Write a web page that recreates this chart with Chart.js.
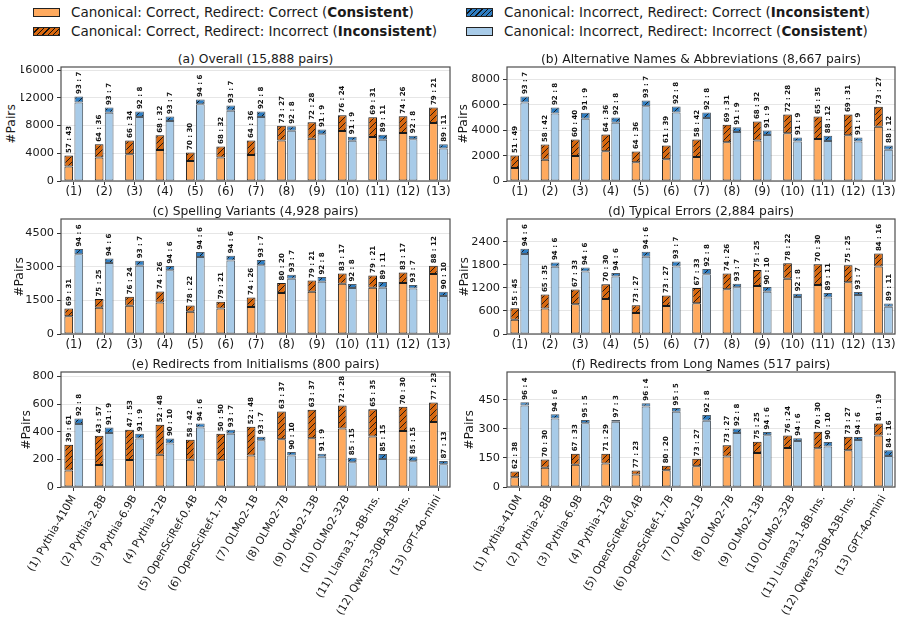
<!DOCTYPE html>
<html><head><meta charset="utf-8">
<script src="https://cdn.jsdelivr.net/npm/chart.js@4.4.1/dist/chart.umd.min.js"></script>
<style>
html,body{margin:0;padding:0;background:#fff;}
#wrap{position:relative;width:904px;height:623px;overflow:hidden;font-family:"DejaVu Sans",sans-serif;color:#1a1a1a;}
canvas.panel{position:absolute;left:0;top:0;}
.ttl{position:absolute;font-size:12.3px;white-space:nowrap;transform:translate(-50%,-50%);line-height:1;}
.ylab{position:absolute;font-size:12.3px;white-space:nowrap;transform:translate(-50%,-50%) rotate(-90deg);line-height:1;}
.sw{position:absolute;width:27px;height:9.5px;border:1px solid #222;box-sizing:border-box;}
.lt{position:absolute;font-size:13.5px;white-space:nowrap;transform:translateY(-50%);line-height:1;}
</style></head>
<body><div id="wrap"></div>
<script>
// ---------- data ----------
const models = ["(1) Pythia-410M","(2) Pythia-2.8B","(3) Pythia-6.9B","(4) Pythia-12B","(5) OpenSciRef-0.4B","(6) OpenSciRef-1.7B","(7) OLMo2-1B","(8) OLMo2-7B","(9) OLMo2-13B","(10) OLMo2-32B","(11) Llama3.1-8B-Ins.","(12) Qwen3-30B-A3B-Ins.","(13) GPT-4o-mini"];
const shortLabels = ["(1)","(2)","(3)","(4)","(5)","(6)","(7)","(8)","(9)","(10)","(11)","(12)","(13)"];
const panelTitles = ["(a) Overall (15,888 pairs)","(b) Alternative Names & Abbreviations (8,667 pairs)","(c) Spelling Variants (4,928 pairs)","(d) Typical Errors (2,884 pairs)","(e) Redirects from Initialisms (800 pairs)","(f) Redirects from Long Names (517 pairs)"];
const legendLabels = [
  ["Canonical: Correct, Redirect: Correct (","Consistent",")"],
  ["Canonical: Correct, Redirect: Incorrect (","Inconsistent",")"],
  ["Canonical: Incorrect, Redirect: Correct (","Inconsistent",")"],
  ["Canonical: Incorrect, Redirect: Incorrect (","Consistent",")"]
];
const overallTicks = [0, 4000, 8000, 12000, 16000];
const altTicks     = [0, 2000, 4000, 6000, 8000];
const spellTicks   = [0, 1500, 3000, 4500];
const typoTicks    = [0, 600, 1200, 1800, 2400];
const initTicks    = [0, 200, 400, 600, 800];
const longTicks    = [0, 150, 300, 450];
const yMaxValues = [16450, 8990, 5130, 2990, 832, 593];

// canonical-correct pairs (orange bar) and canonical-incorrect pairs (blue bar)
const overallCanonCorrect   = [3690, 5290, 5860, 6590, 4120, 4990, 5860, 7990, 8470, 9490, 9200, 9350, 10600];
const overallCanonIncorrect = [12198, 10598, 10028, 9298, 11768, 10898, 10028, 7898, 7418, 6398, 6688, 6538, 5288];
const overallCanonRatio = ["57 : 43","64 : 36","66 : 34","68 : 32","70 : 30","68 : 32","64 : 36","73 : 27","72 : 28","76 : 24","69 : 31","74 : 26","79 : 21"];
const overallRedirRatio = ["93 : 7","93 : 7","92 : 8","93 : 7","94 : 6","93 : 7","92 : 8","92 : 8","91 : 9","91 : 9","89 : 11","92 : 8","89 : 11"];

const altCanonCorrect   = [2010, 2875, 3275, 3665, 2325, 2800, 3270, 4430, 4685, 5235, 5090, 5235, 5865];
const altCanonIncorrect = [6657, 5792, 5392, 5002, 6342, 5867, 5397, 4237, 3982, 3432, 3577, 3432, 2802];
const altCanonRatio = ["51 : 49","58 : 42","60 : 40","64 : 36","64 : 36","61 : 39","58 : 42","69 : 31","68 : 32","72 : 28","65 : 35","69 : 31","73 : 27"];
const altRedirRatio = ["93 : 7","92 : 8","91 : 9","92 : 8","93 : 7","92 : 8","92 : 8","91 : 9","91 : 9","91 : 9","88 : 12","91 : 9","88 : 12"];

const spellCanonCorrect   = [1140, 1560, 1660, 1900, 1270, 1440, 1630, 2280, 2390, 2700, 2610, 2740, 3040];
const spellCanonIncorrect = [3788, 3368, 3268, 3028, 3658, 3488, 3298, 2648, 2538, 2228, 2318, 2188, 1888];
const spellCanonRatio = ["69 : 31","75 : 25","76 : 24","74 : 26","78 : 22","79 : 21","74 : 26","80 : 20","79 : 21","83 : 17","79 : 21","83 : 17","88 : 12"];
const spellRedirRatio = ["94 : 6","94 : 6","93 : 7","94 : 6","94 : 6","94 : 6","93 : 7","93 : 7","92 : 8","92 : 8","89 : 11","93 : 7","90 : 10"];

const typoCanonCorrect   = [670, 1025, 1155, 1295, 745, 1000, 1195, 1575, 1665, 1840, 1815, 1790, 2090];
const typoCanonIncorrect = [2214, 1859, 1729, 1589, 2139, 1884, 1689, 1309, 1219, 1044, 1069, 1094, 794];
const typoCanonRatio = ["55 : 45","65 : 35","67 : 33","70 : 30","73 : 27","73 : 27","67 : 33","74 : 26","75 : 25","78 : 22","70 : 30","75 : 25","84 : 16"];
const typoRedirRatio = ["94 : 6","94 : 6","94 : 6","94 : 6","94 : 6","93 : 7","92 : 8","93 : 7","90 : 10","92 : 8","89 : 11","93 : 7","89 : 11"];

const initCanonCorrect   = [305, 370, 414, 450, 341, 385, 436, 547, 559, 589, 562, 580, 612];
const initCanonIncorrect = [495, 430, 386, 350, 459, 415, 364, 253, 241, 211, 238, 220, 188];
const initCanonRatio = ["39 : 61","43 : 57","47 : 53","52 : 48","58 : 42","50 : 50","52 : 48","63 : 37","63 : 37","72 : 28","65 : 35","70 : 30","77 : 23"];
const initRedirRatio = ["92 : 8","91 : 9","91 : 9","90 : 10","94 : 6","93 : 7","93 : 7","90 : 10","91 : 9","85 : 15","85 : 15","85 : 15","87 : 13"];

const longCanonCorrect   = [80, 142, 171, 171, 85, 109, 146, 215, 233, 265, 285, 259, 327];
const longCanonIncorrect = [437, 375, 346, 346, 432, 408, 371, 302, 284, 252, 232, 258, 190];
const longCanonRatio = ["62 : 38","70 : 30","67 : 33","71 : 29","77 : 23","80 : 20","73 : 27","73 : 27","75 : 25","76 : 24","70 : 30","73 : 27","81 : 19"];
const longRedirRatio = ["96 : 4","94 : 6","95 : 5","97 : 3","96 : 4","95 : 5","92 : 8","92 : 8","94 : 6","94 : 6","90 : 10","94 : 6","84 : 16"];

const yTickSets = [overallTicks, altTicks, spellTicks, typoTicks, initTicks, longTicks];
const canonCorrectSets   = [overallCanonCorrect, altCanonCorrect, spellCanonCorrect, typoCanonCorrect, initCanonCorrect, longCanonCorrect];
const canonIncorrectSets = [overallCanonIncorrect, altCanonIncorrect, spellCanonIncorrect, typoCanonIncorrect, initCanonIncorrect, longCanonIncorrect];
const canonRatioSets = [overallCanonRatio, altCanonRatio, spellCanonRatio, typoCanonRatio, initCanonRatio, longCanonRatio];
const redirRatioSets = [overallRedirRatio, altRedirRatio, spellRedirRatio, typoRedirRatio, initRedirRatio, longRedirRatio];

// ---------- layout / style ----------
const W = 904, H = 623;
const boxes = [[61,67,450,181],[507,67,895,181],[61,219,450,334],[507,219,895,334],[61,372,450,487],[507,372,895,487]];
const titleY = [58.5, 58.5, 211, 211, 364, 364];
const ylabX = [11, 463, 19, 464, 26, 469];
const FONT = '"DejaVu Sans", sans-serif';
const TXT = '#1a1a1a';
const C_LO = '#FFAA5E', C_HO = '#D8680F', C_HB = '#2E7DC2', C_LB = '#A8CBE8';

Chart.defaults.font.family = FONT;

function hatch(base){
  const s = 6, c = document.createElement('canvas'); c.width = s; c.height = s;
  const g = c.getContext('2d');
  g.fillStyle = base; g.fillRect(0,0,s,s);
  g.strokeStyle = '#111'; g.lineWidth = 0.9;
  g.beginPath();
  g.moveTo(0,s); g.lineTo(s,0);
  g.moveTo(-1,1); g.lineTo(1,-1);
  g.moveTo(s-1,s+1); g.lineTo(s+1,s-1);
  g.stroke();
  return g.createPattern(c,'repeat');
}
const pctOf = r => parseInt(r.split(':')[0], 10);

const wrap = document.getElementById('wrap');

// legend
const legPos = [[33,12.5,C_LO,false],[33,31.5,C_HO,true],[466,12.5,C_HB,true],[466,31.5,C_LB,false]];
legPos.forEach((lp,k)=>{
  const sw = document.createElement('div'); sw.className='sw';
  sw.style.left = lp[0]+'px'; sw.style.top = (lp[1]-4.75)+'px';
  sw.style.background = lp[3] ? `repeating-linear-gradient(135deg, ${lp[2]} 0px, ${lp[2]} 2.8px, #111 2.8px, #111 3.8px)` : lp[2];
  wrap.appendChild(sw);
  const t = document.createElement('div'); t.className='lt';
  t.style.left = (lp[0]+38)+'px'; t.style.top = lp[1]+'px';
  const L = legendLabels[k];
  t.innerHTML = L[0] + '<b>' + L[1] + '</b>' + L[2];
  wrap.appendChild(t);
});

function makePanel(p){
  const [L,T,R,B] = boxes[p];
  const bottomRow = p >= 4;
  const YW = 40, XH = bottomRow ? 130 : 24;
  const cc = canonCorrectSets[p], ci = canonIncorrectSets[p];
  const cr = canonRatioSets[p], rr = redirRatioSets[p];
  const ccCons = cc.map((v,i)=>Math.round(v*pctOf(cr[i])/100));
  const ccInc = cc.map((v,i)=>v-ccCons[i]);
  const ciCons = ci.map((v,i)=>Math.round(v*pctOf(rr[i])/100));
  const ciInc = ci.map((v,i)=>v-ciCons[i]);
  const tickVals = yTickSets[p];

  const t = document.createElement('div'); t.className='ttl';
  t.style.left = ((L+R)/2)+'px'; t.style.top = titleY[p]+'px'; t.textContent = panelTitles[p];
  wrap.appendChild(t);
  const yl = document.createElement('div'); yl.className='ylab';
  yl.style.left = ylabX[p]+'px'; yl.style.top = ((T+B)/2)+'px'; yl.textContent = '#Pairs';
  wrap.appendChild(yl);

  const cv = document.createElement('canvas'); cv.className='panel'; cv.width=W; cv.height=H;
  wrap.appendChild(cv);

  const framePlugin = {
    id:'frame'+p,
    afterDatasetsDraw(chart){
      const a = chart.chartArea, ctx = chart.ctx;
      ctx.save(); ctx.strokeStyle='#4d4d4d'; ctx.lineWidth=1.2;
      ctx.strokeRect(a.left, a.top, a.right-a.left, a.bottom-a.top);
      ctx.restore();
    }
  };
  const labelPlugin = {
    id:'pairLabels'+p,
    afterDatasetsDraw(chart){
      const ctx = chart.ctx, ys = chart.scales.y;
      ctx.save();
      ctx.font = 'bold 7px "DejaVu Sans"'; ctx.fillStyle = '#111';
      ctx.textAlign = 'left'; ctx.textBaseline = 'middle';
      [[1, cc, cr],[3, ci, rr]].forEach(([ds, tot, lab])=>{
        const meta = chart.getDatasetMeta(ds);
        meta.data.forEach((bar,i)=>{
          const y = ys.getPixelForValue(tot[i]);
          ctx.save(); ctx.translate(bar.x+0.3, y-2.5); ctx.rotate(-Math.PI/2);
          ctx.fillText(lab[i], 0, 0); ctx.restore();
        });
      });
      ctx.restore();
    }
  };

  new Chart(cv, {
    type:'bar',
    data:{
      labels: bottomRow ? models : shortLabels,
      datasets:[
        {label:'Canonical: Correct, Redirect: Correct', data:ccCons, stack:'canon', backgroundColor:C_LO, borderColor:'#1a1a1a', borderWidth:1, borderSkipped:false},
        {label:'Canonical: Correct, Redirect: Incorrect', data:ccInc, stack:'canon', backgroundColor:hatch(C_HO), borderColor:'#1a1a1a', borderWidth:1, borderSkipped:false},
        {label:'Canonical: Incorrect, Redirect: Incorrect', data:ciCons, stack:'redir', backgroundColor:C_LB, borderColor:'#4f5a64', borderWidth:1, borderSkipped:false},
        {label:'Canonical: Incorrect, Redirect: Correct', data:ciInc, stack:'redir', backgroundColor:hatch(C_HB), borderColor:'#4f5a64', borderWidth:1, borderSkipped:false}
      ]
    },
    options:{
      responsive:false, animation:false, devicePixelRatio:1,
      categoryPercentage:0.66, barPercentage:0.87,
      layout:{padding:{left:L-YW, top:T, right:W-R, bottom:H-B-XH}},
      plugins:{legend:{display:false}, tooltip:{enabled:false}, title:{display:false}},
      scales:{
        x:{
          stacked:true, offset:true,
          grid:{display:true, drawOnChartArea:false, offset:false, drawTicks:true, tickLength:4, tickColor:'#333'},
          border:{display:false},
          ticks:{autoSkip:false, maxRotation: bottomRow?60:0, minRotation: bottomRow?60:0, color:TXT, padding: bottomRow?2:0, font:{size: bottomRow?10.8:11.8}},
          afterBuildTicks(s){ s._startValue = -0.42; s._valueRange = 12.8; },
          afterFit(s){ s.height = XH; s.paddingLeft = 0; s.paddingRight = 0; }
        },
        y:{
          stacked:true, min:0, max:yMaxValues[p],
          ticks:{autoSkip:false, color:TXT, padding:3, font:{size:11.3}, callback:(v)=>String(v)},
          grid:{color:'#e6e6e6', lineWidth:1, tickLength:4, tickColor:'#333'},
          border:{display:false},
          afterBuildTicks(s){ s.ticks = tickVals.map(v=>({value:v})); },
          afterFit(s){ s.width = YW; s.paddingTop = 0; s.paddingBottom = 0; }
        }
      }
    },
    plugins:[framePlugin, labelPlugin]
  });
}
for (let p=0;p<6;p++) makePanel(p);
</script>
</body></html>
